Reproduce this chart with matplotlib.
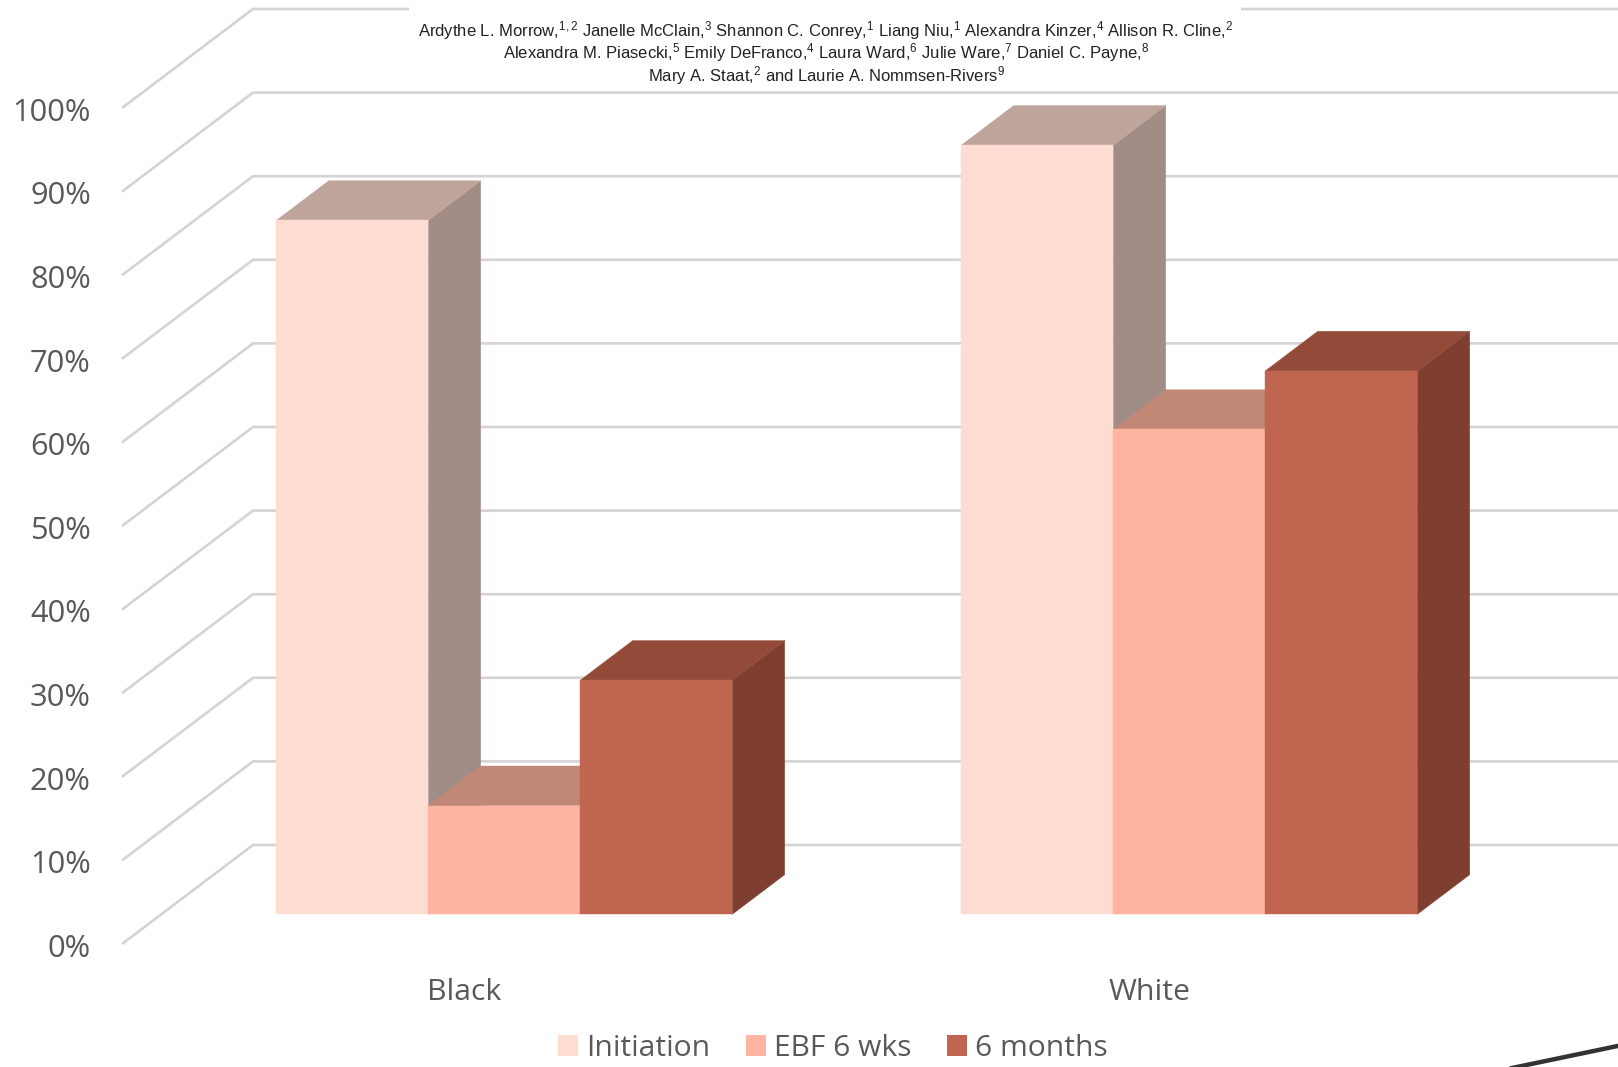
import matplotlib
matplotlib.use("Agg")
import matplotlib.pyplot as plt
from matplotlib.patches import Patch, Polygon, Rectangle
from matplotlib.lines import Line2D
from matplotlib.transforms import ScaledTranslation

# Survey outcomes by group
groups = ["Black", "White"]
series_names = ["Initiation", "EBF 6 wks", "6 months"]
initiation = [83, 92]
ebf_6_wks = [13, 58]
six_months = [28, 65]
y_ticks = list(range(0, 101, 10))
y_tick_labels = [f"{v}%" for v in y_ticks]

author_lines = [
    r"Ardythe L. Morrow,$^{1,2}$ Janelle McClain,$^{3}$ Shannon C. Conrey,$^{1}$ Liang Niu,$^{1}$ Alexandra Kinzer,$^{4}$ Allison R. Cline,$^{2}$",
    r"Alexandra M. Piasecki,$^{5}$ Emily DeFranco,$^{4}$ Laura Ward,$^{6}$ Julie Ware,$^{7}$ Daniel C. Payne,$^{8}$",
    r"Mary A. Staat,$^{2}$ and Laurie A. Nommsen-Rivers$^{9}$",
]

# Face colours: front, top, side
palette = [
    ("#FDDCD1", "#BFA49B", "#A18D85"),
    ("#FFB5A2", "#C28877", "#A07264"),
    ("#C0654F", "#934A39", "#7E3E30"),
]

W, H = 1618, 1067
plt.rcParams["mathtext.fontset"] = "custom"
plt.rcParams["mathtext.default"] = "regular"
plt.rcParams["mathtext.rm"] = "Liberation Sans"
fig = plt.figure(figsize=(W / 100, H / 100), dpi=100, facecolor="white")

# Axes box is the front plane of the 3D frame
left, right, bottom, top = 122, 1492, 944, 108
ax = fig.add_axes([left / W, 1 - bottom / H, (right - left) / W, (bottom - top) / H])
ax.set_xlim(-0.5, 1.5)
ax.set_ylim(0, 100)
ax.patch.set_visible(False)
for s in ax.spines.values():
    s.set_visible(False)

# Oblique projection: full depth shifts right and up by these data amounts
DX, DY = 131 / 685, 99 / 8.36
D0, D1 = 0.30, 0.70
BAR_W = 152 / 685
BAR_SHIFT = 0.5 / 685


def proj(x, y, d):
    return (x + d * DX, y + d * DY)


GRID = "#D4D4D4"
for v in y_ticks:
    ax.plot(*zip(proj(-0.5, v, 0), proj(-0.5, v, 1), proj(1.5, v, 1)),
            color=GRID, lw=1.9, clip_on=False, zorder=1, solid_joinstyle="miter",
            solid_capstyle="butt")


def poly(points, color, z):
    ax.add_patch(Polygon(points, closed=True, facecolor=color, edgecolor=color,
                         lw=0.3, clip_on=False, zorder=z))


for g in range(len(groups)):
    vals = [initiation[g], ebf_6_wks[g], six_months[g]]
    for i, v in enumerate(vals):
        x0 = g + (i - 1.5) * BAR_W + BAR_SHIFT
        x1 = x0 + BAR_W
        front, top_c, side = palette[i]
        z = 2 + g + i * 0.1
        poly([proj(x1, 0, D0), proj(x1, 0, D1), proj(x1, v, D1), proj(x1, v, D0)], side, z)
        poly([proj(x0, v, D0), proj(x1, v, D0), proj(x1, v, D1), proj(x0, v, D1)], top_c, z)
        poly([proj(x0, 0, D0), proj(x1, 0, D0), proj(x1, v, D0), proj(x0, v, D0)], front, z + 0.01)

TICK = "#595959"
FONT = ["Open Sans", "DejaVu Sans"]
ax.set_yticks(y_ticks, y_tick_labels, family=FONT, fontsize=22.2, color=TICK)
ax.set_xticks(range(len(groups)), groups, family=FONT, fontsize=21.8, color=TICK)
ax.tick_params(axis="y", length=0, pad=22.5)
ax.tick_params(axis="x", length=0, pad=24.5)
nudge = ScaledTranslation(0, -1 / 72, fig.dpi_scale_trans)
for lab in ax.get_yticklabels():
    lab.set_transform(lab.get_transform() + nudge)

handles = [Patch(facecolor=p[0], label=n) for p, n in zip(palette, series_names)]
fig.legend(handles=handles, loc="center", bbox_to_anchor=(833 / W, 1 - 1048.5 / H),
           ncol=3, frameon=False, prop={"family": FONT, "size": 21.6},
           labelcolor=TICK, handlelength=0.66, handleheight=0.66,
           handletextpad=0.27, columnspacing=1.2, borderpad=0)

# Author block sits on a white panel over the top of the back wall
fig.add_artist(Rectangle((409 / W, 1 - 88 / H), (1241 - 409) / W, 88 / H,
                         transform=fig.transFigure, facecolor="white",
                         edgecolor="none", zorder=10))
for line, y in zip(author_lines, [30.5, 53, 75.5]):
    fig.text(826 / W, 1 - y / H, line, ha="center", va="center", color="#222222",
             family="Liberation Sans", fontsize=12, zorder=11)

# Stroke running off the lower right corner
fig.add_artist(Line2D([1512 / W, 1620 / W], [1 - 1068 / H, 1 - 1045.5 / H],
                      transform=fig.transFigure, color="#333333", lw=3.2, zorder=11))

fig.savefig("out.png", dpi=100)
